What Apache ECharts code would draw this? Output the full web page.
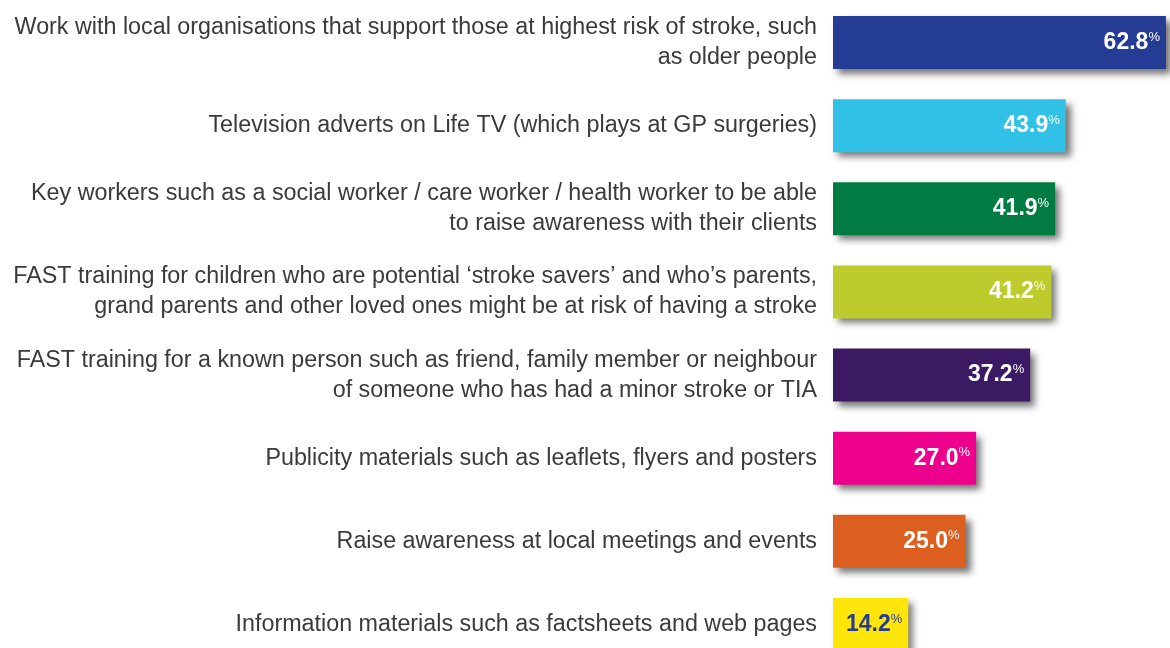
<!DOCTYPE html>
<html>
<head>
<meta charset="utf-8">
<script src="https://cdn.jsdelivr.net/npm/echarts@6/dist/echarts.min.js"></script>
<style>
  html, body { margin: 0; padding: 0; background: #ffffff; }
  #chart { width: 1170px; height: 648px; }
</style>
</head>
<body>
<div id="chart"></div>
<script>
// Survey options, top to bottom
const categories = [
  'Work with local organisations that support those at highest risk of stroke, such\nas older people',
  'Television adverts on Life TV (which plays at GP surgeries)',
  'Key workers such as a social worker / care worker / health worker to be able\nto raise awareness with their clients',
  'FAST training for children who are potential \u2018stroke savers\u2019 and who\u2019s parents,\ngrand parents and other loved ones might be at risk of having a stroke',
  'FAST training for a known person such as friend, family member or neighbour\nof someone who has had a minor stroke or TIA',
  'Publicity materials such as leaflets, flyers and posters',
  'Raise awareness at local meetings and events',
  'Information materials such as factsheets and web pages'
];
// Share of respondents (%)
const values = [62.8, 43.9, 41.9, 41.2, 37.2, 27.0, 25.0, 14.2];
const barColors = ['#253C95', '#31C1E6', '#007C42', '#BDCC2C', '#3C1A63', '#EC008C', '#DD5F1F', '#FFE50A'];
const labelColors = ['#ffffff', '#ffffff', '#ffffff', '#ffffff', '#ffffff', '#ffffff', '#ffffff', '#253C95'];

const FONT = 'Liberation Sans, Arial, sans-serif';
const chart = echarts.init(document.getElementById('chart'), null, { renderer: 'canvas' });

const data = values.map((v, i) => ({
  value: v,
  itemStyle: { color: barColors[i] },
  label: {
    rich: {
      v: { color: labelColors[i], fontSize: 23, fontWeight: 'bold', fontFamily: FONT },
      p: { color: labelColors[i], fontSize: 13, fontFamily: FONT, padding: [0, 0, 11, 0] }
    }
  }
}));

chart.setOption({
  animation: false,
  // category points sit on the tick positions so the last bar can run off the bottom edge
  grid: { left: 833, width: 334, top: 42.5, bottom: 23.5, containLabel: false },
  xAxis: {
    type: 'value', min: 0, max: 63, show: false
  },
  yAxis: {
    type: 'category',
    inverse: true,
    boundaryGap: false,
    data: categories,
    axisLine: { show: false },
    axisTick: { show: false },
    splitLine: { show: false },
    axisLabel: {
      margin: 16,
      color: '#3a3a3a',
      fontSize: 23.3,
      lineHeight: 30,
      align: 'right',
      fontFamily: FONT
    }
  },
  series: [{
    type: 'bar',
    data: data,
    barWidth: 53,
    itemStyle: {
      shadowColor: 'rgba(0,0,0,0.55)',
      shadowBlur: 7,
      shadowOffsetX: 5,
      shadowOffsetY: 5
    },
    label: {
      show: true,
      position: 'insideRight',
      distance: 6,
      formatter: p => '{v|' + p.value.toFixed(1) + '}{p|%}'
    }
  }]
});
</script>
</body>
</html>
